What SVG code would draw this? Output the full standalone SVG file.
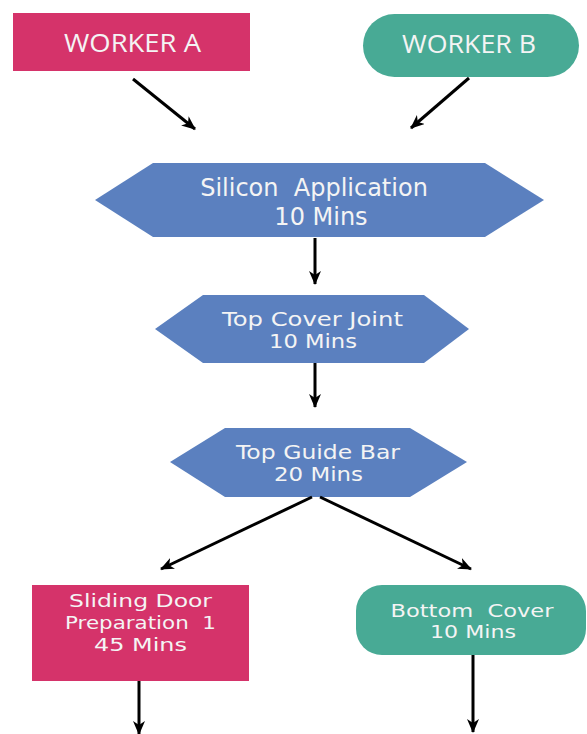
<svg xmlns="http://www.w3.org/2000/svg" width="587" height="734" viewBox="0 0 587 734">
  <style>
    .pink { fill: #D5336A; }
    .teal { fill: #48AA95; }
    .blue { fill: #5B80BF; }
    .lbl { font-family: "DejaVu Sans", Verdana, sans-serif; fill: #F4F4F4; text-anchor: middle; }
    .wlbl { font-family: "Open Sans", "Liberation Sans", sans-serif; font-size: 25px; fill: #F4F4F4; text-anchor: middle; }
    .conn { stroke: #000; stroke-width: 3; fill: none; marker-end: url(#arrow); }
  </style>
  <defs>
    <marker id="arrow" markerUnits="userSpaceOnUse" viewBox="0 0 14 12" refX="13" refY="6" markerWidth="14" markerHeight="12" orient="auto">
      <path d="M0,0 L14,6 L0,12 L4,6 z" fill="#000"/>
    </marker>
  </defs>

  <!-- workers -->
  <g id="worker-a">
    <rect class="pink" x="13" y="13" width="237" height="58"/>
    <text class="wlbl" x="132.5" y="52" textLength="137" lengthAdjust="spacingAndGlyphs">WORKER A</text>
  </g>
  <g id="worker-b">
    <rect class="teal" x="363" y="14" width="216" height="63" rx="31.5" ry="31.5"/>
    <text class="wlbl" x="469" y="53" textLength="134" lengthAdjust="spacingAndGlyphs">WORKER B</text>
  </g>

  <!-- process steps -->
  <g id="silicon-application">
    <polygon class="blue" points="95,200 153,163 485,163 544,200 485,237 153,237"/>
    <text class="lbl" x="314" y="196" font-size="24" xml:space="preserve">Silicon  Application</text>
    <text class="lbl" x="321" y="225" font-size="24">10 Mins</text>
  </g>
  <g id="top-cover-joint">
    <polygon class="blue" points="155,329 203,295 424,295 469,329 424,363 203,363"/>
    <text class="lbl" x="312.5" y="326" font-size="19.5" textLength="181" lengthAdjust="spacingAndGlyphs">Top Cover Joint</text>
    <text class="lbl" x="313" y="348" font-size="19.5" textLength="88" lengthAdjust="spacingAndGlyphs">10 Mins</text>
  </g>
  <g id="top-guide-bar">
    <polygon class="blue" points="170,462 225,428 410,428 467,462 410,497 225,497"/>
    <text class="lbl" x="318" y="459" font-size="19" textLength="164" lengthAdjust="spacingAndGlyphs">Top Guide Bar</text>
    <text class="lbl" x="318.5" y="481" font-size="19" textLength="89" lengthAdjust="spacingAndGlyphs">20 Mins</text>
  </g>
  <g id="sliding-door-preparation">
    <rect class="pink" x="32" y="585" width="217" height="96"/>
    <text class="lbl" x="140.5" y="607" font-size="18" textLength="143" lengthAdjust="spacingAndGlyphs">Sliding Door</text>
    <text class="lbl" x="140.5" y="629" font-size="18" textLength="151" lengthAdjust="spacingAndGlyphs" xml:space="preserve">Preparation  1</text>
    <text class="lbl" x="140.5" y="651" font-size="18" textLength="93" lengthAdjust="spacingAndGlyphs">45 Mins</text>
  </g>
  <g id="bottom-cover">
    <rect class="teal" x="356" y="585" width="230" height="70" rx="26" ry="26"/>
    <text class="lbl" x="472" y="617" font-size="18" textLength="163" lengthAdjust="spacingAndGlyphs" xml:space="preserve">Bottom  Cover</text>
    <text class="lbl" x="473" y="638" font-size="18" textLength="86" lengthAdjust="spacingAndGlyphs">10 Mins</text>
  </g>

  <!-- connectors -->
  <g id="connectors">
    <line class="conn" x1="133" y1="79" x2="195" y2="129"/>
    <line class="conn" x1="469" y1="78" x2="411" y2="128"/>
    <line class="conn" x1="315" y1="238" x2="315" y2="284"/>
    <line class="conn" x1="315" y1="363" x2="315" y2="407"/>
    <line class="conn" x1="312" y1="497" x2="161" y2="569"/>
    <line class="conn" x1="320" y1="497" x2="471" y2="569"/>
    <line class="conn" x1="139" y1="681" x2="139" y2="734"/>
    <line class="conn" x1="473" y1="655" x2="473" y2="732"/>
  </g>
</svg>
